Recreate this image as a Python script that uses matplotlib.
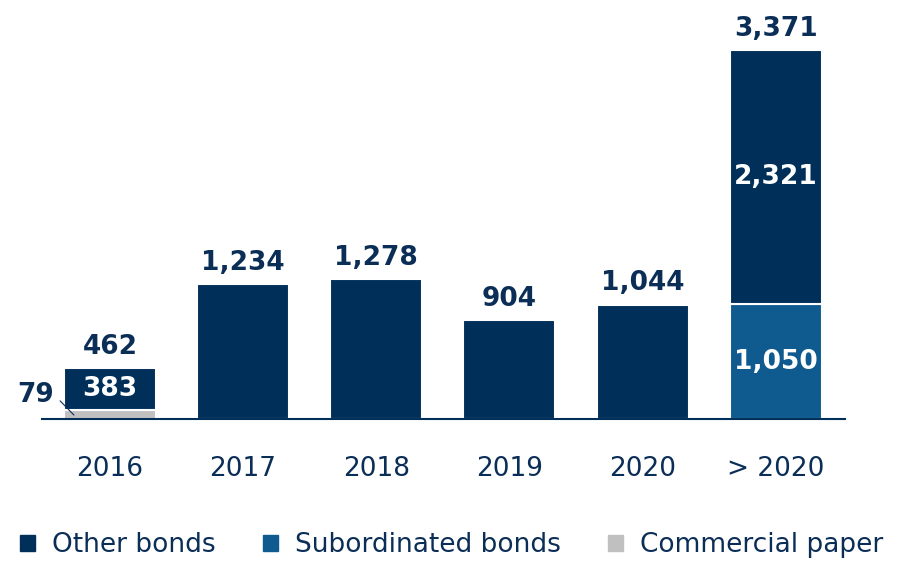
import matplotlib
matplotlib.use("Agg")
import matplotlib.pyplot as plt
from matplotlib.patches import Patch
import numpy as np

categories = ["2016", "2017", "2018", "2019", "2020", "> 2020"]
commercial_paper = [79, 0, 0, 0, 0, 0]
other_bonds = [383, 1234, 1278, 904, 1044, 2321]
subordinated_bonds = [0, 0, 0, 0, 0, 1050]
totals = [462, 1234, 1278, 904, 1044, 3371]

navy = "#00305a"
mid_blue = "#0f5a8f"
grey = "#c0c0c0"
text_col = "#0b2e57"

plt.rcParams["font.family"] = "DejaVu Sans"

fig = plt.figure(figsize=(8.99, 5.62), dpi=100)
ax = fig.add_axes([42 / 899, 1 - 419 / 562, (845 - 42) / 899, 419 / 562])

x = np.arange(len(categories))
w = 0.69
cp = np.array(commercial_paper)
sub = np.array(subordinated_bonds)
oth = np.array(other_bonds)

ax.bar(x, cp, w, color=grey, edgecolor="white", linewidth=1.5)
ax.bar(x, sub, w, bottom=cp, color=mid_blue, edgecolor="white", linewidth=1.5)
ax.bar(x, oth, w, bottom=cp + sub, color=navy, edgecolor="white", linewidth=1.5)

ax.set_xlim(-0.51, 5.52)
ax.set_ylim(0, 419 / 0.10946)

for s in ["top", "right", "left"]:
    ax.spines[s].set_visible(False)
ax.spines["bottom"].set_color(navy)
ax.spines["bottom"].set_linewidth(1.5)
ax.set_yticks([])
ax.set_xticks(x)
ax.set_xticklabels(categories, fontsize=19, color=text_col)
ax.tick_params(axis="x", length=0, pad=27)

# totals above bars
for i, t in enumerate(totals):
    ax.annotate(f"{t:,}", (x[i], t), xytext=(0, 6), textcoords="offset points",
                ha="center", va="bottom", fontsize=19, fontweight="bold", color=text_col)

# values inside segments
ax.text(x[0], cp[0] + oth[0] / 2, f"{oth[0]:,}", ha="center", va="center",
        fontsize=19, fontweight="bold", color="white")
ax.text(x[5], cp[5] + sub[5] + oth[5] / 2, f"{oth[5]:,}", ha="center", va="center",
        fontsize=19, fontweight="bold", color="white")
ax.text(x[5], cp[5] + sub[5] / 2, f"{sub[5]:,}", ha="center", va="center",
        fontsize=19, fontweight="bold", color="white")

# commercial paper label with leader line
ax.annotate(f"{cp[0]:,}", xy=(-0.27, 36), xytext=(-0.555, 219),
            ha="center", va="center", fontsize=19, fontweight="bold", color=text_col,
            arrowprops=dict(arrowstyle="-", color=text_col, lw=0.8, relpos=(1, 0.5),
                            shrinkA=3, shrinkB=0),
            annotation_clip=False)

handles = [Patch(color=navy, label="Other bonds"),
           Patch(color=mid_blue, label="Subordinated bonds"),
           Patch(color=grey, label="Commercial paper")]
leg = fig.legend(handles=handles, loc="center left", bbox_to_anchor=(20 / 899, 1 - 545 / 562),
                 ncol=3, frameon=False, fontsize=19, handlelength=0.57, handleheight=0.57,
                 handletextpad=0.64, columnspacing=1.8, borderpad=0, borderaxespad=0)
for t in leg.get_texts():
    t.set_color(text_col)

fig.savefig("out.png", dpi=100)
